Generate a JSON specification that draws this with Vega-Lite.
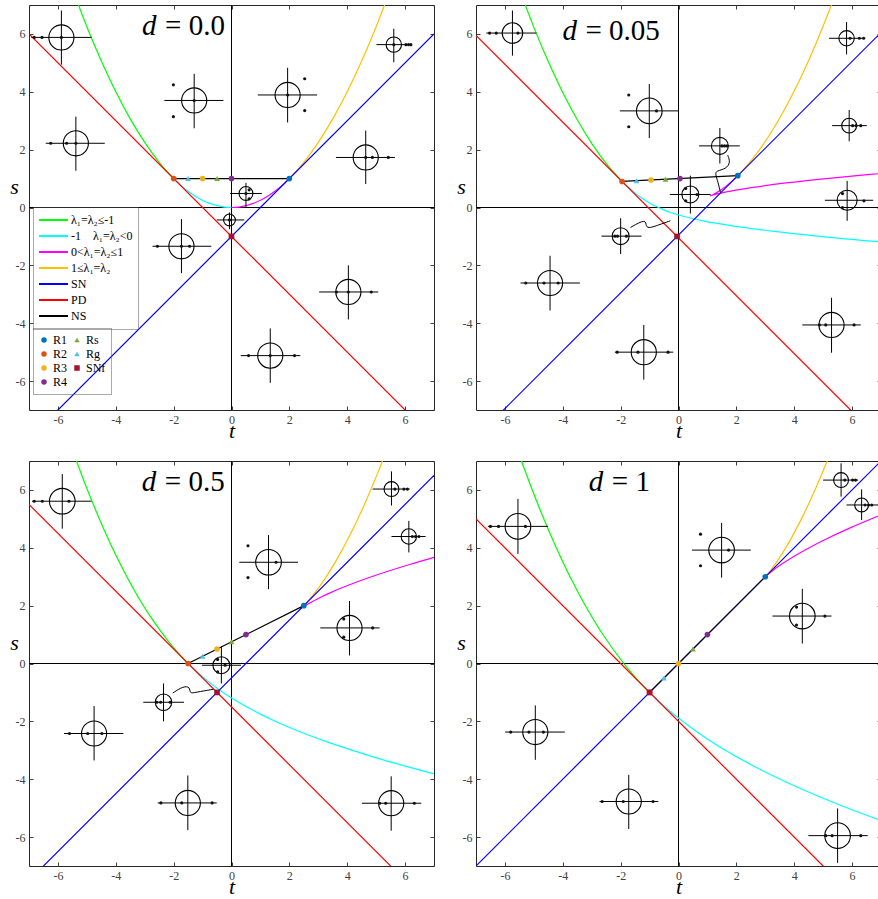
{
"$schema": "https://vega.github.io/schema/vega-lite/v6.json",
"padding": {"left": 9, "top": 4, "right": 0, "bottom": 0},
"background": "white",
"datasets": {"all": [
{"kind":"c","p":"A","g":"λ₁=λ₂≤-1","k":0,"t":-2,"s":1},{"kind":"c","p":"A","g":"λ₁=λ₂≤-1","k":1,"t":-2.5,"s":1.5625},{"kind":"c","p":"A","g":"λ₁=λ₂≤-1","k":2,"t":-3,"s":2.25},{"kind":"c","p":"A","g":"λ₁=λ₂≤-1","k":3,"t":-3.5,"s":3.0625},{"kind":"c","p":"A","g":"λ₁=λ₂≤-1","k":4,"t":-4,"s":4},{"kind":"c","p":"A","g":"λ₁=λ₂≤-1","k":5,"t":-4.5,"s":5.0625},{"kind":"c","p":"A","g":"λ₁=λ₂≤-1","k":6,"t":-5,"s":6.25},{"kind":"c","p":"A","g":"λ₁=λ₂≤-1","k":7,"t":-5.5,"s":7.5625},
{"kind":"c","p":"A","g":"-1\u00a0\u00a0\u00a0\u00a0λ₁=λ₂<0","k":0,"t":-2,"s":1},{"kind":"c","p":"A","g":"-1\u00a0\u00a0\u00a0\u00a0λ₁=λ₂<0","k":1,"t":-1.75,"s":0.7656},{"kind":"c","p":"A","g":"-1\u00a0\u00a0\u00a0\u00a0λ₁=λ₂<0","k":2,"t":-1.5,"s":0.5625},{"kind":"c","p":"A","g":"-1\u00a0\u00a0\u00a0\u00a0λ₁=λ₂<0","k":3,"t":-1.25,"s":0.3906},{"kind":"c","p":"A","g":"-1\u00a0\u00a0\u00a0\u00a0λ₁=λ₂<0","k":4,"t":-1,"s":0.25},{"kind":"c","p":"A","g":"-1\u00a0\u00a0\u00a0\u00a0λ₁=λ₂<0","k":5,"t":-0.75,"s":0.1406},{"kind":"c","p":"A","g":"-1\u00a0\u00a0\u00a0\u00a0λ₁=λ₂<0","k":6,"t":-0.5,"s":0.0625},{"kind":"c","p":"A","g":"-1\u00a0\u00a0\u00a0\u00a0λ₁=λ₂<0","k":7,"t":-0.25,"s":0.0156},{"kind":"c","p":"A","g":"-1\u00a0\u00a0\u00a0\u00a0λ₁=λ₂<0","k":8,"t":0,"s":0},
{"kind":"c","p":"A","g":"0<λ₁=λ₂≤1","k":0,"t":0,"s":0},{"kind":"c","p":"A","g":"0<λ₁=λ₂≤1","k":1,"t":0.25,"s":0.0156},{"kind":"c","p":"A","g":"0<λ₁=λ₂≤1","k":2,"t":0.5,"s":0.0625},{"kind":"c","p":"A","g":"0<λ₁=λ₂≤1","k":3,"t":0.75,"s":0.1406},{"kind":"c","p":"A","g":"0<λ₁=λ₂≤1","k":4,"t":1,"s":0.25},{"kind":"c","p":"A","g":"0<λ₁=λ₂≤1","k":5,"t":1.25,"s":0.3906},{"kind":"c","p":"A","g":"0<λ₁=λ₂≤1","k":6,"t":1.5,"s":0.5625},{"kind":"c","p":"A","g":"0<λ₁=λ₂≤1","k":7,"t":1.75,"s":0.7656},{"kind":"c","p":"A","g":"0<λ₁=λ₂≤1","k":8,"t":2,"s":1},
{"kind":"c","p":"A","g":"1≤λ₁=λ₂","k":0,"t":2,"s":1},{"kind":"c","p":"A","g":"1≤λ₁=λ₂","k":1,"t":2.5,"s":1.5625},{"kind":"c","p":"A","g":"1≤λ₁=λ₂","k":2,"t":3,"s":2.25},{"kind":"c","p":"A","g":"1≤λ₁=λ₂","k":3,"t":3.5,"s":3.0625},{"kind":"c","p":"A","g":"1≤λ₁=λ₂","k":4,"t":4,"s":4},{"kind":"c","p":"A","g":"1≤λ₁=λ₂","k":5,"t":4.5,"s":5.0625},{"kind":"c","p":"A","g":"1≤λ₁=λ₂","k":6,"t":5,"s":6.25},{"kind":"c","p":"A","g":"1≤λ₁=λ₂","k":7,"t":5.5,"s":7.5625},
{"kind":"c","p":"A","g":"SN","k":0,"t":-7,"s":-8},{"kind":"c","p":"A","g":"SN","k":1,"t":7,"s":6},
{"kind":"c","p":"A","g":"PD","k":0,"t":-7,"s":6},{"kind":"c","p":"A","g":"PD","k":1,"t":7,"s":-8},
{"kind":"c","p":"A","g":"NS","k":0,"t":-2,"s":1},{"kind":"c","p":"A","g":"NS","k":1,"t":2,"s":1},

{"kind":"c","p":"B","g":"λ₁=λ₂≤-1","k":0,"t":-1.95,"s":0.9},{"kind":"c","p":"B","g":"λ₁=λ₂≤-1","k":1,"t":-2.468,"s":1.4825},{"kind":"c","p":"B","g":"λ₁=λ₂≤-1","k":2,"t":-2.978,"s":2.183},{"kind":"c","p":"B","g":"λ₁=λ₂≤-1","k":3,"t":-3.484,"s":3.005},{"kind":"c","p":"B","g":"λ₁=λ₂≤-1","k":4,"t":-3.988,"s":3.95},{"kind":"c","p":"B","g":"λ₁=λ₂≤-1","k":5,"t":-4.49,"s":5.018},{"kind":"c","p":"B","g":"λ₁=λ₂≤-1","k":6,"t":-4.992,"s":6.21},{"kind":"c","p":"B","g":"λ₁=λ₂≤-1","k":7,"t":-5.493,"s":7.526},
{"kind":"c","p":"B","g":"-1\u00a0\u00a0\u00a0\u00a0λ₁=λ₂<0","k":0,"t":-1.95,"s":0.9},{"kind":"c","p":"B","g":"-1\u00a0\u00a0\u00a0\u00a0λ₁=λ₂<0","k":1,"t":-1.738,"s":0.699},{"kind":"c","p":"B","g":"-1\u00a0\u00a0\u00a0\u00a0λ₁=λ₂<0","k":2,"t":-1.522,"s":0.515},{"kind":"c","p":"B","g":"-1\u00a0\u00a0\u00a0\u00a0λ₁=λ₂<0","k":3,"t":-1.298,"s":0.347},{"kind":"c","p":"B","g":"-1\u00a0\u00a0\u00a0\u00a0λ₁=λ₂<0","k":4,"t":-1.061,"s":0.193},{"kind":"c","p":"B","g":"-1\u00a0\u00a0\u00a0\u00a0λ₁=λ₂<0","k":5,"t":-0.8,"s":0.05},{"kind":"c","p":"B","g":"-1\u00a0\u00a0\u00a0\u00a0λ₁=λ₂<0","k":6,"t":-0.488,"s":-0.09},{"kind":"c","p":"B","g":"-1\u00a0\u00a0\u00a0\u00a0λ₁=λ₂<0","k":7,"t":-0.292,"s":-0.163},{"kind":"c","p":"B","g":"-1\u00a0\u00a0\u00a0\u00a0λ₁=λ₂<0","k":8,"t":-0.044,"s":-0.243},{"kind":"c","p":"B","g":"-1\u00a0\u00a0\u00a0\u00a0λ₁=λ₂<0","k":9,"t":0.3,"s":-0.338},{"kind":"c","p":"B","g":"-1\u00a0\u00a0\u00a0\u00a0λ₁=λ₂<0","k":10,"t":0.85,"s":-0.46},{"kind":"c","p":"B","g":"-1\u00a0\u00a0\u00a0\u00a0λ₁=λ₂<0","k":11,"t":1.283,"s":-0.541},{"kind":"c","p":"B","g":"-1\u00a0\u00a0\u00a0\u00a0λ₁=λ₂<0","k":12,"t":1.922,"s":-0.644},{"kind":"c","p":"B","g":"-1\u00a0\u00a0\u00a0\u00a0λ₁=λ₂<0","k":13,"t":3.232,"s":-0.819},{"kind":"c","p":"B","g":"-1\u00a0\u00a0\u00a0\u00a0λ₁=λ₂<0","k":14,"t":4.8,"s":-0.99},{"kind":"c","p":"B","g":"-1\u00a0\u00a0\u00a0\u00a0λ₁=λ₂<0","k":15,"t":5.993,"s":-1.103},{"kind":"c","p":"B","g":"-1\u00a0\u00a0\u00a0\u00a0λ₁=λ₂<0","k":16,"t":7.092,"s":-1.198},
{"kind":"c","p":"B","g":"0<λ₁=λ₂≤1","k":0,"t":2.05,"s":1.1},{"kind":"c","p":"B","g":"0<λ₁=λ₂≤1","k":1,"t":1.862,"s":0.921},{"kind":"c","p":"B","g":"0<λ₁=λ₂≤1","k":2,"t":1.678,"s":0.765},{"kind":"c","p":"B","g":"0<λ₁=λ₂≤1","k":3,"t":1.502,"s":0.633},{"kind":"c","p":"B","g":"0<λ₁=λ₂≤1","k":4,"t":1.339,"s":0.527},{"kind":"c","p":"B","g":"0<λ₁=λ₂≤1","k":5,"t":1.2,"s":0.45},{"kind":"c","p":"B","g":"0<λ₁=λ₂≤1","k":6,"t":1.147,"s":0.425},{"kind":"c","p":"B","g":"0<λ₁=λ₂≤1","k":7,"t":1.113,"s":0.41},{"kind":"c","p":"B","g":"0<λ₁=λ₂≤1","k":8,"t":1.108,"s":0.408},{"kind":"c","p":"B","g":"0<λ₁=λ₂≤1","k":9,"t":1.156,"s":0.423},{"kind":"c","p":"B","g":"0<λ₁=λ₂≤1","k":10,"t":1.3,"s":0.463},{"kind":"c","p":"B","g":"0<λ₁=λ₂≤1","k":11,"t":1.65,"s":0.54},{"kind":"c","p":"B","g":"0<λ₁=λ₂≤1","k":12,"t":1.983,"s":0.602},{"kind":"c","p":"B","g":"0<λ₁=λ₂≤1","k":13,"t":2.522,"s":0.689},{"kind":"c","p":"B","g":"0<λ₁=λ₂≤1","k":14,"t":3.712,"s":0.848},{"kind":"c","p":"B","g":"0<λ₁=λ₂≤1","k":15,"t":5.2,"s":1.01},{"kind":"c","p":"B","g":"0<λ₁=λ₂≤1","k":16,"t":6.353,"s":1.119},{"kind":"c","p":"B","g":"0<λ₁=λ₂≤1","k":17,"t":7.09,"s":1.184},
{"kind":"c","p":"B","g":"1≤λ₁=λ₂","k":0,"t":2.05,"s":1.1},{"kind":"c","p":"B","g":"1≤λ₁=λ₂","k":1,"t":2.532,"s":1.643},{"kind":"c","p":"B","g":"1≤λ₁=λ₂","k":2,"t":3.022,"s":2.317},{"kind":"c","p":"B","g":"1≤λ₁=λ₂","k":3,"t":3.516,"s":3.12},{"kind":"c","p":"B","g":"1≤λ₁=λ₂","k":4,"t":4.013,"s":4.05},{"kind":"c","p":"B","g":"1≤λ₁=λ₂","k":5,"t":4.51,"s":5.107},{"kind":"c","p":"B","g":"1≤λ₁=λ₂","k":6,"t":5.008,"s":6.29},{"kind":"c","p":"B","g":"1≤λ₁=λ₂","k":7,"t":5.507,"s":7.599},
{"kind":"c","p":"B","g":"SN","k":0,"t":-7,"s":-7.95},{"kind":"c","p":"B","g":"SN","k":1,"t":7,"s":6.05},
{"kind":"c","p":"B","g":"PD","k":0,"t":-7,"s":5.95},{"kind":"c","p":"B","g":"PD","k":1,"t":7,"s":-8.05},
{"kind":"c","p":"B","g":"NS","k":0,"t":-1.95,"s":0.9},{"kind":"c","p":"B","g":"NS","k":1,"t":2.05,"s":1.1},

{"kind":"c","p":"C","g":"λ₁=λ₂≤-1","k":0,"t":-1.5,"s":0},{"kind":"c","p":"C","g":"λ₁=λ₂≤-1","k":1,"t":-1.787,"s":0.301},{"kind":"c","p":"C","g":"λ₁=λ₂≤-1","k":2,"t":-2.18,"s":0.763},{"kind":"c","p":"C","g":"λ₁=λ₂≤-1","k":3,"t":-2.778,"s":1.583},{"kind":"c","p":"C","g":"λ₁=λ₂≤-1","k":4,"t":-3.337,"s":2.491},{"kind":"c","p":"C","g":"λ₁=λ₂≤-1","k":5,"t":-3.875,"s":3.5},{"kind":"c","p":"C","g":"λ₁=λ₂≤-1","k":6,"t":-4.401,"s":4.618},{"kind":"c","p":"C","g":"λ₁=λ₂≤-1","k":7,"t":-4.92,"s":5.85},{"kind":"c","p":"C","g":"λ₁=λ₂≤-1","k":8,"t":-5.434,"s":7.199},
{"kind":"c","p":"C","g":"-1\u00a0\u00a0\u00a0\u00a0λ₁=λ₂<0","k":0,"t":-1.5,"s":0},{"kind":"c","p":"C","g":"-1\u00a0\u00a0\u00a0\u00a0λ₁=λ₂<0","k":1,"t":-1.346,"s":-0.15},{"kind":"c","p":"C","g":"-1\u00a0\u00a0\u00a0\u00a0λ₁=λ₂<0","k":2,"t":-1.183,"s":-0.301},{"kind":"c","p":"C","g":"-1\u00a0\u00a0\u00a0\u00a0λ₁=λ₂<0","k":3,"t":-0.819,"s":-0.61},{"kind":"c","p":"C","g":"-1\u00a0\u00a0\u00a0\u00a0λ₁=λ₂<0","k":4,"t":-0.38,"s":-0.939},{"kind":"c","p":"C","g":"-1\u00a0\u00a0\u00a0\u00a0λ₁=λ₂<0","k":5,"t":0.189,"s":-1.307},{"kind":"c","p":"C","g":"-1\u00a0\u00a0\u00a0\u00a0λ₁=λ₂<0","k":6,"t":1,"s":-1.75},{"kind":"c","p":"C","g":"-1\u00a0\u00a0\u00a0\u00a0λ₁=λ₂<0","k":7,"t":1.569,"s":-2.02},{"kind":"c","p":"C","g":"-1\u00a0\u00a0\u00a0\u00a0λ₁=λ₂<0","k":8,"t":2.325,"s":-2.34},{"kind":"c","p":"C","g":"-1\u00a0\u00a0\u00a0\u00a0λ₁=λ₂<0","k":9,"t":3.382,"s":-2.735},{"kind":"c","p":"C","g":"-1\u00a0\u00a0\u00a0\u00a0λ₁=λ₂<0","k":10,"t":4.956,"s":-3.243},{"kind":"c","p":"C","g":"-1\u00a0\u00a0\u00a0\u00a0λ₁=λ₂<0","k":11,"t":5.818,"s":-3.493},{"kind":"c","p":"C","g":"-1\u00a0\u00a0\u00a0\u00a0λ₁=λ₂<0","k":12,"t":6.876,"s":-3.779},{"kind":"c","p":"C","g":"-1\u00a0\u00a0\u00a0\u00a0λ₁=λ₂<0","k":13,"t":7.179,"s":-3.857},
{"kind":"c","p":"C","g":"0<λ₁=λ₂≤1","k":0,"t":2.5,"s":2},{"kind":"c","p":"C","g":"0<λ₁=λ₂≤1","k":1,"t":2.417,"s":1.921},{"kind":"c","p":"C","g":"0<λ₁=λ₂≤1","k":2,"t":2.381,"s":1.89},{"kind":"c","p":"C","g":"0<λ₁=λ₂≤1","k":3,"t":2.42,"s":1.919},{"kind":"c","p":"C","g":"0<λ₁=λ₂≤1","k":4,"t":2.589,"s":2.027},{"kind":"c","p":"C","g":"0<λ₁=λ₂≤1","k":5,"t":3,"s":2.25},{"kind":"c","p":"C","g":"0<λ₁=λ₂≤1","k":6,"t":3.369,"s":2.425},{"kind":"c","p":"C","g":"0<λ₁=λ₂≤1","k":7,"t":3.925,"s":2.66},{"kind":"c","p":"C","g":"0<λ₁=λ₂≤1","k":8,"t":4.782,"s":2.98},{"kind":"c","p":"C","g":"0<λ₁=λ₂≤1","k":9,"t":6.156,"s":3.423},{"kind":"c","p":"C","g":"0<λ₁=λ₂≤1","k":10,"t":6.938,"s":3.65},{"kind":"c","p":"C","g":"0<λ₁=λ₂≤1","k":11,"t":7.162,"s":3.712},
{"kind":"c","p":"C","g":"1≤λ₁=λ₂","k":0,"t":2.5,"s":2},{"kind":"c","p":"C","g":"1≤λ₁=λ₂","k":1,"t":2.613,"s":2.119},{"kind":"c","p":"C","g":"1≤λ₁=λ₂","k":2,"t":2.82,"s":2.363},{"kind":"c","p":"C","g":"1≤λ₁=λ₂","k":3,"t":3.222,"s":2.917},{"kind":"c","p":"C","g":"1≤λ₁=λ₂","k":4,"t":3.663,"s":3.634},{"kind":"c","p":"C","g":"1≤λ₁=λ₂","k":5,"t":4.125,"s":4.5},{"kind":"c","p":"C","g":"1≤λ₁=λ₂","k":6,"t":4.599,"s":5.507},{"kind":"c","p":"C","g":"1≤λ₁=λ₂","k":7,"t":5.08,"s":6.65},{"kind":"c","p":"C","g":"1≤λ₁=λ₂","k":8,"t":5.274,"s":7.145},
{"kind":"c","p":"C","g":"SN","k":0,"t":-7,"s":-7.5},{"kind":"c","p":"C","g":"SN","k":1,"t":7,"s":6.5},
{"kind":"c","p":"C","g":"PD","k":0,"t":-7,"s":5.5},{"kind":"c","p":"C","g":"PD","k":1,"t":7,"s":-8.5},
{"kind":"c","p":"C","g":"NS","k":0,"t":-1.5,"s":0},{"kind":"c","p":"C","g":"NS","k":1,"t":2.5,"s":2},

{"kind":"c","p":"D","g":"λ₁=λ₂≤-1","k":0,"t":-1,"s":-1},{"kind":"c","p":"D","g":"λ₁=λ₂≤-1","k":1,"t":-1.374,"s":-0.608},{"kind":"c","p":"D","g":"λ₁=λ₂≤-1","k":2,"t":-1.86,"s":-0.038},{"kind":"c","p":"D","g":"λ₁=λ₂≤-1","k":3,"t":-2.556,"s":0.917},{"kind":"c","p":"D","g":"λ₁=λ₂≤-1","k":4,"t":-3.173,"s":1.92},{"kind":"c","p":"D","g":"λ₁=λ₂≤-1","k":5,"t":-3.75,"s":3},{"kind":"c","p":"D","g":"λ₁=λ₂≤-1","k":6,"t":-4.302,"s":4.174},{"kind":"c","p":"D","g":"λ₁=λ₂≤-1","k":7,"t":-4.84,"s":5.45},{"kind":"c","p":"D","g":"λ₁=λ₂≤-1","k":8,"t":-5.368,"s":6.835},{"kind":"c","p":"D","g":"λ₁=λ₂≤-1","k":9,"t":-5.472,"s":7.126},
{"kind":"c","p":"D","g":"-1\u00a0\u00a0\u00a0\u00a0λ₁=λ₂<0","k":0,"t":-1,"s":-1},{"kind":"c","p":"D","g":"-1\u00a0\u00a0\u00a0\u00a0λ₁=λ₂<0","k":1,"t":-0.608,"s":-1.374},{"kind":"c","p":"D","g":"-1\u00a0\u00a0\u00a0\u00a0λ₁=λ₂<0","k":2,"t":-0.038,"s":-1.86},{"kind":"c","p":"D","g":"-1\u00a0\u00a0\u00a0\u00a0λ₁=λ₂<0","k":3,"t":0.917,"s":-2.556},{"kind":"c","p":"D","g":"-1\u00a0\u00a0\u00a0\u00a0λ₁=λ₂<0","k":4,"t":1.92,"s":-3.173},{"kind":"c","p":"D","g":"-1\u00a0\u00a0\u00a0\u00a0λ₁=λ₂<0","k":5,"t":3,"s":-3.75},{"kind":"c","p":"D","g":"-1\u00a0\u00a0\u00a0\u00a0λ₁=λ₂<0","k":6,"t":4.174,"s":-4.302},{"kind":"c","p":"D","g":"-1\u00a0\u00a0\u00a0\u00a0λ₁=λ₂<0","k":7,"t":5.45,"s":-4.84},{"kind":"c","p":"D","g":"-1\u00a0\u00a0\u00a0\u00a0λ₁=λ₂<0","k":8,"t":6.835,"s":-5.368},{"kind":"c","p":"D","g":"-1\u00a0\u00a0\u00a0\u00a0λ₁=λ₂<0","k":9,"t":7.126,"s":-5.472},
{"kind":"c","p":"D","g":"0<λ₁=λ₂≤1","k":0,"t":3,"s":3},{"kind":"c","p":"D","g":"0<λ₁=λ₂≤1","k":1,"t":3.028,"s":3.026},{"kind":"c","p":"D","g":"0<λ₁=λ₂≤1","k":2,"t":3.163,"s":3.14},{"kind":"c","p":"D","g":"0<λ₁=λ₂≤1","k":3,"t":3.583,"s":3.444},{"kind":"c","p":"D","g":"0<λ₁=λ₂≤1","k":4,"t":4.205,"s":3.827},{"kind":"c","p":"D","g":"0<λ₁=λ₂≤1","k":5,"t":5,"s":4.25},{"kind":"c","p":"D","g":"0<λ₁=λ₂≤1","k":6,"t":5.951,"s":4.698},{"kind":"c","p":"D","g":"0<λ₁=λ₂≤1","k":7,"t":7.05,"s":5.16},
{"kind":"c","p":"D","g":"1≤λ₁=λ₂","k":0,"t":3,"s":3},{"kind":"c","p":"D","g":"1≤λ₁=λ₂","k":1,"t":3.026,"s":3.028},{"kind":"c","p":"D","g":"1≤λ₁=λ₂","k":2,"t":3.14,"s":3.163},{"kind":"c","p":"D","g":"1≤λ₁=λ₂","k":3,"t":3.444,"s":3.583},{"kind":"c","p":"D","g":"1≤λ₁=λ₂","k":4,"t":3.827,"s":4.205},{"kind":"c","p":"D","g":"1≤λ₁=λ₂","k":5,"t":4.25,"s":5},{"kind":"c","p":"D","g":"1≤λ₁=λ₂","k":6,"t":4.698,"s":5.951},{"kind":"c","p":"D","g":"1≤λ₁=λ₂","k":7,"t":5.16,"s":7.05},
{"kind":"c","p":"D","g":"SN","k":0,"t":-7,"s":-7},{"kind":"c","p":"D","g":"SN","k":1,"t":7,"s":7},
{"kind":"c","p":"D","g":"PD","k":0,"t":-7,"s":5},{"kind":"c","p":"D","g":"PD","k":1,"t":7,"s":-9},
{"kind":"c","p":"D","g":"NS","k":0,"t":-1,"s":-1},{"kind":"c","p":"D","g":"NS","k":1,"t":3,"s":3},

{"kind":"gl","p":"A","cx":-5.88,"cy":5.88,"r":0.49,"hx1":-6.92,"hx2":-4.84,"vy1":4.94,"vy2":6.81},
{"kind":"gl","p":"A","cx":-1.29,"cy":3.7,"r":0.49,"hx1":-2.32,"hx2":-0.28,"vy1":2.74,"vy2":4.62},
{"kind":"gl","p":"A","cx":1.94,"cy":3.89,"r":0.49,"hx1":0.91,"hx2":2.96,"vy1":2.94,"vy2":4.83},
{"kind":"gl","p":"A","cx":5.61,"cy":5.63,"r":0.3,"hx1":5.01,"hx2":6.21,"vy1":5.02,"vy2":6.18},
{"kind":"gl","p":"A","cx":-5.38,"cy":2.22,"r":0.49,"hx1":-6.42,"hx2":-4.38,"vy1":1.27,"vy2":3.14},
{"kind":"gl","p":"A","cx":4.64,"cy":1.73,"r":0.49,"hx1":3.61,"hx2":5.65,"vy1":0.81,"vy2":2.66},
{"kind":"gl","p":"A","cx":0.5,"cy":0.485,"r":0.27,"hx1":-0.05,"hx2":1.05,"vy1":0.0,"vy2":0.85},
{"kind":"gl","p":"A","cx":-0.07,"cy":-0.43,"r":0.23,"hx1":-0.51,"hx2":0.44,"vy1":-0.75,"vy2":-0.17},
{"kind":"gl","p":"A","cx":-1.73,"cy":-1.34,"r":0.49,"hx1":-2.73,"hx2":-0.7,"vy1":-2.27,"vy2":-0.4},
{"kind":"gl","p":"A","cx":4.04,"cy":-2.92,"r":0.49,"hx1":3.03,"hx2":5.07,"vy1":-3.87,"vy2":-2.0},
{"kind":"gl","p":"A","cx":1.34,"cy":-5.12,"r":0.49,"hx1":0.32,"hx2":2.38,"vy1":-6.06,"vy2":-4.18},
{"kind":"gl","p":"B","cx":-5.74,"cy":6.03,"r":0.4,"hx1":-6.64,"hx2":-4.91,"vy1":5.25,"vy2":6.81},
{"kind":"gl","p":"B","cx":-1.01,"cy":3.34,"r":0.5,"hx1":-2.03,"hx2":0.02,"vy1":2.4,"vy2":4.27},
{"kind":"gl","p":"B","cx":5.81,"cy":5.85,"r":0.3,"hx1":5.2,"hx2":6.45,"vy1":5.29,"vy2":6.41},
{"kind":"gl","p":"B","cx":5.9,"cy":2.83,"r":0.29,"hx1":5.31,"hx2":6.51,"vy1":2.29,"vy2":3.37},
{"kind":"gl","p":"B","cx":1.43,"cy":2.13,"r":0.33,"hx1":0.71,"hx2":2.12,"vy1":1.52,"vy2":2.75},
{"kind":"gl","p":"B","cx":0.41,"cy":0.45,"r":0.33,"hx1":-0.3,"hx2":1.11,"vy1":-0.21,"vy2":1.1},
{"kind":"gl","p":"B","cx":5.83,"cy":0.25,"r":0.39,"hx1":5.06,"hx2":6.73,"vy1":-0.46,"vy2":0.92},
{"kind":"gl","p":"B","cx":-2.0,"cy":-0.99,"r":0.33,"hx1":-2.66,"hx2":-1.28,"vy1":-1.61,"vy2":-0.37},
{"kind":"gl","p":"B","cx":-4.44,"cy":-2.61,"r":0.49,"hx1":-5.46,"hx2":-3.41,"vy1":-3.56,"vy2":-1.67},
{"kind":"gl","p":"B","cx":-1.2,"cy":-5.0,"r":0.49,"hx1":-2.2,"hx2":-0.18,"vy1":-5.95,"vy2":-4.06},
{"kind":"gl","p":"B","cx":5.29,"cy":-4.06,"r":0.49,"hx1":4.28,"hx2":6.3,"vy1":-5.02,"vy2":-3.12},
{"kind":"gl","p":"C","cx":-5.85,"cy":5.61,"r":0.5,"hx1":-6.89,"hx2":-4.84,"vy1":4.66,"vy2":6.55},
{"kind":"gl","p":"C","cx":1.28,"cy":3.5,"r":0.5,"hx1":0.27,"hx2":2.3,"vy1":2.57,"vy2":4.44},
{"kind":"gl","p":"C","cx":5.53,"cy":6.03,"r":0.29,"hx1":4.88,"hx2":6.16,"vy1":5.46,"vy2":6.64},
{"kind":"gl","p":"C","cx":6.13,"cy":4.39,"r":0.3,"hx1":5.53,"hx2":6.71,"vy1":3.84,"vy2":4.93},
{"kind":"gl","p":"C","cx":4.08,"cy":1.23,"r":0.49,"hx1":3.07,"hx2":5.12,"vy1":0.28,"vy2":2.16},
{"kind":"gl","p":"C","cx":-0.35,"cy":-0.06,"r":0.33,"hx1":-1.02,"hx2":0.33,"vy1":-0.69,"vy2":0.58},
{"kind":"gl","p":"C","cx":-2.35,"cy":-1.34,"r":0.32,"hx1":-3.05,"hx2":-1.64,"vy1":-2.0,"vy2":-0.69},
{"kind":"gl","p":"C","cx":-4.75,"cy":-2.42,"r":0.49,"hx1":-5.79,"hx2":-3.74,"vy1":-3.35,"vy2":-1.47},
{"kind":"gl","p":"C","cx":-1.51,"cy":-4.82,"r":0.49,"hx1":-2.55,"hx2":-0.51,"vy1":-5.76,"vy2":-3.87},
{"kind":"gl","p":"C","cx":5.52,"cy":-4.83,"r":0.49,"hx1":4.51,"hx2":6.56,"vy1":-5.78,"vy2":-3.9},
{"kind":"gl","p":"D","cx":-5.55,"cy":4.74,"r":0.5,"hx1":-6.59,"hx2":-4.51,"vy1":3.79,"vy2":5.69},
{"kind":"gl","p":"D","cx":1.49,"cy":3.92,"r":0.5,"hx1":0.47,"hx2":2.5,"vy1":2.97,"vy2":4.86},
{"kind":"gl","p":"D","cx":5.62,"cy":6.34,"r":0.29,"hx1":5.0,"hx2":6.21,"vy1":5.77,"vy2":6.92},
{"kind":"gl","p":"D","cx":6.33,"cy":5.48,"r":0.27,"hx1":5.81,"hx2":6.9,"vy1":4.96,"vy2":6.02},
{"kind":"gl","p":"D","cx":4.28,"cy":1.64,"r":0.5,"hx1":3.25,"hx2":5.29,"vy1":0.69,"vy2":2.58},
{"kind":"gl","p":"D","cx":-4.95,"cy":-2.37,"r":0.49,"hx1":-5.99,"hx2":-3.93,"vy1":-3.33,"vy2":-1.45},
{"kind":"gl","p":"D","cx":-1.72,"cy":-4.77,"r":0.49,"hx1":-2.73,"hx2":-0.7,"vy1":-5.72,"vy2":-3.85},
{"kind":"gl","p":"D","cx":5.5,"cy":-5.95,"r":0.5,"hx1":4.49,"hx2":6.54,"vy1":-6.89,"vy2":-5.01},

{"kind":"dt","p":"A","t":-6.82,"s":5.88},{"kind":"dt","p":"A","t":-6.55,"s":5.88},{"kind":"dt","p":"A","t":-5.88,"s":5.88},
{"kind":"dt","p":"A","t":-2.01,"s":4.24},{"kind":"dt","p":"A","t":-2.01,"s":3.14},{"kind":"dt","p":"A","t":-1.29,"s":3.7},
{"kind":"dt","p":"A","t":2.53,"s":4.45},{"kind":"dt","p":"A","t":2.53,"s":3.35},{"kind":"dt","p":"A","t":1.94,"s":3.89},
{"kind":"dt","p":"A","t":5.61,"s":5.63},{"kind":"dt","p":"A","t":6.03,"s":5.63},{"kind":"dt","p":"A","t":6.12,"s":5.63},{"kind":"dt","p":"A","t":6.2,"s":5.63},
{"kind":"dt","p":"A","t":-6.25,"s":2.22},{"kind":"dt","p":"A","t":-5.7,"s":2.22},{"kind":"dt","p":"A","t":-5.38,"s":2.22},
{"kind":"dt","p":"A","t":4.64,"s":1.73},{"kind":"dt","p":"A","t":4.87,"s":1.73},{"kind":"dt","p":"A","t":5.42,"s":1.73},
{"kind":"dt","p":"A","t":0.61,"s":0.61},{"kind":"dt","p":"A","t":0.61,"s":0.3},{"kind":"dt","p":"A","t":0.5,"s":0.485},
{"kind":"dt","p":"A","t":-0.07,"s":-0.43},
{"kind":"dt","p":"A","t":-2.56,"s":-1.34},{"kind":"dt","p":"A","t":-1.73,"s":-1.34},{"kind":"dt","p":"A","t":-1.45,"s":-1.34},
{"kind":"dt","p":"A","t":3.63,"s":-2.92},{"kind":"dt","p":"A","t":4.04,"s":-2.92},{"kind":"dt","p":"A","t":4.83,"s":-2.92},
{"kind":"dt","p":"A","t":0.59,"s":-5.12},{"kind":"dt","p":"A","t":1.34,"s":-5.12},{"kind":"dt","p":"A","t":2.18,"s":-5.12},
{"kind":"dt","p":"B","t":-6.53,"s":6.03},{"kind":"dt","p":"B","t":-6.3,"s":6.03},{"kind":"dt","p":"B","t":-5.55,"s":6.03},
{"kind":"dt","p":"B","t":-1.72,"s":3.89},{"kind":"dt","p":"B","t":-1.72,"s":2.79},{"kind":"dt","p":"B","t":-0.76,"s":3.34},
{"kind":"dt","p":"B","t":5.93,"s":5.85},{"kind":"dt","p":"B","t":6.25,"s":5.85},{"kind":"dt","p":"B","t":6.4,"s":5.85},
{"kind":"dt","p":"B","t":6.02,"s":2.83},{"kind":"dt","p":"B","t":6.14,"s":2.83},{"kind":"dt","p":"B","t":6.3,"s":2.83},
{"kind":"dt","p":"B","t":1.5,"s":2.13},{"kind":"dt","p":"B","t":1.59,"s":2.13},{"kind":"dt","p":"B","t":1.68,"s":2.13},
{"kind":"dt","p":"B","t":0.25,"s":0.66},{"kind":"dt","p":"B","t":0.25,"s":0.23},{"kind":"dt","p":"B","t":0.64,"s":0.45},
{"kind":"dt","p":"B","t":5.67,"s":0.48},{"kind":"dt","p":"B","t":5.67,"s":0.0},{"kind":"dt","p":"B","t":6.41,"s":0.23},
{"kind":"dt","p":"B","t":-2.2,"s":-0.99},{"kind":"dt","p":"B","t":-2.11,"s":-0.99},{"kind":"dt","p":"B","t":-1.8,"s":-0.99},
{"kind":"dt","p":"B","t":-5.28,"s":-2.61},{"kind":"dt","p":"B","t":-4.65,"s":-2.61},{"kind":"dt","p":"B","t":-4.16,"s":-2.61},
{"kind":"dt","p":"B","t":-2.12,"s":-5.0},{"kind":"dt","p":"B","t":-1.4,"s":-5.0},{"kind":"dt","p":"B","t":-0.36,"s":-5.0},
{"kind":"dt","p":"B","t":4.87,"s":-4.06},{"kind":"dt","p":"B","t":5.09,"s":-4.06},{"kind":"dt","p":"B","t":6.07,"s":-4.06},
{"kind":"dt","p":"C","t":-6.82,"s":5.61},{"kind":"dt","p":"C","t":-6.54,"s":5.61},{"kind":"dt","p":"C","t":-5.62,"s":5.61},
{"kind":"dt","p":"C","t":0.57,"s":4.07},{"kind":"dt","p":"C","t":0.57,"s":2.97},{"kind":"dt","p":"C","t":1.54,"s":3.5},
{"kind":"dt","p":"C","t":5.65,"s":6.03},{"kind":"dt","p":"C","t":5.96,"s":6.03},{"kind":"dt","p":"C","t":6.08,"s":6.03},
{"kind":"dt","p":"C","t":6.25,"s":4.39},{"kind":"dt","p":"C","t":6.36,"s":4.39},{"kind":"dt","p":"C","t":6.48,"s":4.39},
{"kind":"dt","p":"C","t":3.88,"s":1.54},{"kind":"dt","p":"C","t":3.88,"s":0.91},{"kind":"dt","p":"C","t":4.88,"s":1.23},
{"kind":"dt","p":"C","t":-0.48,"s":0.14},{"kind":"dt","p":"C","t":-0.48,"s":-0.29},{"kind":"dt","p":"C","t":-0.22,"s":-0.06},
{"kind":"dt","p":"C","t":-2.58,"s":-1.34},{"kind":"dt","p":"C","t":-2.45,"s":-1.34},{"kind":"dt","p":"C","t":-2.12,"s":-1.34},
{"kind":"dt","p":"C","t":-5.6,"s":-2.42},{"kind":"dt","p":"C","t":-4.97,"s":-2.42},{"kind":"dt","p":"C","t":-4.48,"s":-2.42},
{"kind":"dt","p":"C","t":-2.44,"s":-4.82},{"kind":"dt","p":"C","t":-1.72,"s":-4.82},{"kind":"dt","p":"C","t":-0.67,"s":-4.82},
{"kind":"dt","p":"C","t":5.12,"s":-4.83},{"kind":"dt","p":"C","t":5.33,"s":-4.83},{"kind":"dt","p":"C","t":6.32,"s":-4.83},
{"kind":"dt","p":"D","t":-6.5,"s":4.74},{"kind":"dt","p":"D","t":-6.22,"s":4.74},{"kind":"dt","p":"D","t":-5.29,"s":4.74},
{"kind":"dt","p":"D","t":0.76,"s":4.47},{"kind":"dt","p":"D","t":0.76,"s":3.38},{"kind":"dt","p":"D","t":1.73,"s":3.92},
{"kind":"dt","p":"D","t":5.75,"s":6.34},{"kind":"dt","p":"D","t":6.02,"s":6.34},{"kind":"dt","p":"D","t":6.12,"s":6.34},
{"kind":"dt","p":"D","t":6.45,"s":5.48},{"kind":"dt","p":"D","t":6.57,"s":5.48},{"kind":"dt","p":"D","t":6.68,"s":5.48},
{"kind":"dt","p":"D","t":4.08,"s":1.95},{"kind":"dt","p":"D","t":4.08,"s":1.33},{"kind":"dt","p":"D","t":5.06,"s":1.64},
{"kind":"dt","p":"D","t":-5.8,"s":-2.37},{"kind":"dt","p":"D","t":-5.17,"s":-2.37},{"kind":"dt","p":"D","t":-4.67,"s":-2.37},
{"kind":"dt","p":"D","t":-2.64,"s":-4.77},{"kind":"dt","p":"D","t":-1.91,"s":-4.77},{"kind":"dt","p":"D","t":-0.88,"s":-4.77},
{"kind":"dt","p":"D","t":5.09,"s":-5.95},{"kind":"dt","p":"D","t":5.31,"s":-5.95},{"kind":"dt","p":"D","t":6.3,"s":-5.95},

{"kind":"sq","p":"B","id":"b1","k":0,"t":1.7,"s":1.81},{"kind":"sq","p":"B","id":"b1","k":1,"t":1.8,"s":1.56},{"kind":"sq","p":"B","id":"b1","k":2,"t":1.64,"s":1.33},{"kind":"sq","p":"B","id":"b1","k":3,"t":1.31,"s":1.27},{"kind":"sq","p":"B","id":"b1","k":4,"t":1.27,"s":1.16},{"kind":"sq","p":"B","id":"b1","k":5,"t":1.37,"s":0.87},{"kind":"sq","p":"B","id":"b1","k":6,"t":1.45,"s":0.52},
{"kind":"sq","p":"B","id":"b2","k":0,"t":-1.66,"s":-0.69},{"kind":"sq","p":"B","id":"b2","k":1,"t":-1.11,"s":-0.38},{"kind":"sq","p":"B","id":"b2","k":2,"t":-1.14,"s":-0.67},{"kind":"sq","p":"B","id":"b2","k":3,"t":-0.99,"s":-0.71},{"kind":"sq","p":"B","id":"b2","k":4,"t":-0.71,"s":-0.61},{"kind":"sq","p":"B","id":"b2","k":5,"t":-0.28,"s":-0.46},
{"kind":"sq","p":"C","id":"c1","k":0,"t":-2.03,"s":-1.02},{"kind":"sq","p":"C","id":"c1","k":1,"t":-1.66,"s":-0.78},{"kind":"sq","p":"C","id":"c1","k":2,"t":-1.43,"s":-0.81},{"kind":"sq","p":"C","id":"c1","k":3,"t":-1.45,"s":-1.04},{"kind":"sq","p":"C","id":"c1","k":4,"t":-1.26,"s":-1.0},{"kind":"sq","p":"C","id":"c1","k":5,"t":-0.62,"s":-0.89},

{"kind":"pt","p":"A","nm":"R1","t":2,"s":1},{"kind":"pt","p":"A","nm":"R2","t":-2,"s":1},{"kind":"pt","p":"A","nm":"R3","t":-1,"s":1},{"kind":"pt","p":"A","nm":"R4","t":0,"s":1},{"kind":"pt","p":"A","nm":"Rs","t":-0.5,"s":1},{"kind":"pt","p":"A","nm":"Rg","t":-1.5,"s":1},{"kind":"pt","p":"A","nm":"SNf","t":0,"s":-1},
{"kind":"pt","p":"B","nm":"R1","t":2.05,"s":1.1},{"kind":"pt","p":"B","nm":"R2","t":-1.95,"s":0.9},{"kind":"pt","p":"B","nm":"R3","t":-0.95,"s":0.95},{"kind":"pt","p":"B","nm":"R4","t":0.05,"s":1},{"kind":"pt","p":"B","nm":"Rs","t":-0.45,"s":0.975},{"kind":"pt","p":"B","nm":"Rg","t":-1.45,"s":0.925},{"kind":"pt","p":"B","nm":"SNf","t":-0.05,"s":-1},
{"kind":"pt","p":"C","nm":"R1","t":2.5,"s":2},{"kind":"pt","p":"C","nm":"R2","t":-1.5,"s":0},{"kind":"pt","p":"C","nm":"R3","t":-0.5,"s":0.5},{"kind":"pt","p":"C","nm":"R4","t":0.5,"s":1},{"kind":"pt","p":"C","nm":"Rs","t":0,"s":0.75},{"kind":"pt","p":"C","nm":"Rg","t":-1,"s":0.25},{"kind":"pt","p":"C","nm":"SNf","t":-0.5,"s":-1},
{"kind":"pt","p":"D","nm":"R1","t":3,"s":3},{"kind":"pt","p":"D","nm":"R2","t":-1,"s":-1},{"kind":"pt","p":"D","nm":"R3","t":0,"s":0},{"kind":"pt","p":"D","nm":"R4","t":1,"s":1},{"kind":"pt","p":"D","nm":"Rs","t":0.5,"s":0.5},{"kind":"pt","p":"D","nm":"Rg","t":-0.5,"s":-0.5},{"kind":"pt","p":"D","nm":"SNf","t":-1,"s":-1},

{"kind":"ttl","p":"A","t":-3.09,"s":5.97,"lab":"= 0.0"},
{"kind":"ttl","p":"B","t":-4.01,"s":5.8,"lab":"= 0.05"},
{"kind":"ttl","p":"C","t":-3.1,"s":5.98,"lab":"= 0.5"},
{"kind":"ttl","p":"D","t":-3.1,"s":5.96,"lab":"= 1"}
]},
"data": {"name": "all"},
"facet": {"field": "p", "type": "nominal", "header": {"labels": false, "title": null, "labelExpr": "''", "labelFontSize": 0, "labelPadding": 0, "titlePadding": 0}},
"columns": 2,
"spacing": {"row": 18, "column": 21},
"resolve": {"axis": {"x": "independent", "y": "independent"}},
"spec": {
  "width": 405,
  "height": 405,
  "resolve": {"axis": {"x": "independent", "y": "independent"}},
  "layer": [
    {
      "transform": [{"filter": "datum.kind === 'ttl'"}],
      "mark": {"type": "rule", "color": "black", "strokeWidth": 1},
      "encoding": {
        "x": {"datum": 0, "type": "quantitative", "scale": {"domain": [-7, 7], "nice": false, "zero": false}, "title": "t",
          "axis": {"values": [-6,-4,-2,0,2,4,6], "labelExpr": "''+datum.value", "tickSize": -4, "labelPadding": 8, "domain": false, "grid": false, "title": "t", "titleFont": "Liberation Serif", "titleFontStyle": "italic", "titleFontWeight": "normal", "titleFontSize": 22, "titlePadding": -5, "labelFont": "Liberation Serif", "labelFontSize": 12, "labelColor": "#404040", "tickColor": "#404040", "labelFlush": false}}
      }
    },
    {
      "transform": [{"filter": "datum.kind === 'ttl'"}],
      "mark": {"type": "rule", "color": "black", "strokeWidth": 1},
      "encoding": {
        "y": {"datum": 0, "type": "quantitative", "scale": {"domain": [-7, 7], "nice": false, "zero": false}, "title": "s",
          "axis": {"values": [-6,-4,-2,0,2,4,6], "labelExpr": "''+datum.value", "tickSize": -4, "labelPadding": 8, "domain": false, "grid": false, "title": "s", "titleFont": "Liberation Serif", "titleFontStyle": "italic", "titleFontWeight": "normal", "titleFontSize": 22, "titleAngle": 0, "titleX": -15, "titleY": 188, "titleAlign": "center", "titleBaseline": "alphabetic", "labelFont": "Liberation Serif", "labelFontSize": 12, "labelColor": "#404040", "tickColor": "#404040", "labelFlush": false}}
      }
    },
    {
      "transform": [{"filter": "datum.kind === 'ttl'"}],
      "mark": {"type": "rule", "opacity": 0},
      "encoding": {
        "x": {"datum": 0, "type": "quantitative", "scale": {"domain": [-7, 7], "nice": false, "zero": false},
          "axis": {"orient": "top", "values": [-6,-4,-2,0,2,4,6], "labels": false, "tickSize": -4, "domain": false, "grid": false, "title": null, "tickColor": "#404040"}},
        "y": {"datum": 0, "type": "quantitative", "scale": {"domain": [-7, 7], "nice": false, "zero": false},
          "axis": {"orient": "right", "values": [-6,-4,-2,0,2,4,6], "labels": false, "tickSize": -4, "domain": false, "grid": false, "title": null, "tickColor": "#404040"}}
      }
    },
    {
      "transform": [{"filter": "datum.kind === 'c'"}],
      "mark": {"type": "line", "clip": true, "strokeWidth": 1.2, "interpolate": "catmull-rom"},
      "encoding": {
        "x": {"field": "t", "type": "quantitative", "scale": {"domain": [-7, 7], "nice": false, "zero": false}, "axis": null},
        "y": {"field": "s", "type": "quantitative", "scale": {"domain": [-7, 7], "nice": false, "zero": false}, "axis": null},
        "order": {"field": "k", "type": "quantitative"},
        "stroke": {"field": "g", "type": "nominal",
          "scale": {"domain": ["λ₁=λ₂≤-1", "-1\u00a0\u00a0\u00a0\u00a0λ₁=λ₂<0", "0<λ₁=λ₂≤1", "1≤λ₁=λ₂", "SN", "PD", "NS"],
                    "range": ["#00FF00", "#00FFFF", "#FF00FF", "#FFC000", "#0000FF", "#FF0000", "#000000"]},
          "legend": {"title": null, "orient": "none", "legendX": 4, "legendY": 202, "symbolType": "stroke", "symbolSize": 841, "symbolStrokeWidth": 2, "labelFont": "Liberation Serif", "labelFontSize": 12, "labelColor": "black", "labelLimit": 200, "labelOffset": 2, "padding": 5, "rowPadding": 0, "clipHeight": 16, "strokeColor": "#555555"}}
      }
    },
    {
      "transform": [{"filter": "datum.kind === 'gl'"}],
      "mark": {"type": "point", "filled": false, "color": "black", "strokeWidth": 1.1, "opacity": 1},
      "encoding": {
        "x": {"field": "cx", "type": "quantitative", "scale": {"domain": [-7, 7], "nice": false, "zero": false}, "axis": null},
        "y": {"field": "cy", "type": "quantitative", "scale": {"domain": [-7, 7], "nice": false, "zero": false}, "axis": null},
        "size": {"field": "r", "type": "quantitative", "scale": {"type": "pow", "exponent": 2, "domain": [0, 1], "range": [0, 2629]}, "legend": null}
      }
    },
    {
      "transform": [{"filter": "datum.kind === 'gl'"}],
      "mark": {"type": "rule", "color": "black", "strokeWidth": 1},
      "encoding": {
        "x": {"field": "hx1", "type": "quantitative", "scale": {"domain": [-7, 7], "nice": false, "zero": false}, "axis": null},
        "x2": {"field": "hx2"},
        "y": {"field": "cy", "type": "quantitative", "scale": {"domain": [-7, 7], "nice": false, "zero": false}, "axis": null}
      }
    },
    {
      "transform": [{"filter": "datum.kind === 'gl'"}],
      "mark": {"type": "rule", "color": "black", "strokeWidth": 1},
      "encoding": {
        "x": {"field": "cx", "type": "quantitative", "scale": {"domain": [-7, 7], "nice": false, "zero": false}, "axis": null},
        "y": {"field": "vy1", "type": "quantitative", "scale": {"domain": [-7, 7], "nice": false, "zero": false}, "axis": null},
        "y2": {"field": "vy2"}
      }
    },
    {
      "transform": [{"filter": "datum.kind === 'dt'"}],
      "mark": {"type": "point", "filled": true, "color": "#111111", "size": 10, "opacity": 1},
      "encoding": {
        "x": {"field": "t", "type": "quantitative", "scale": {"domain": [-7, 7], "nice": false, "zero": false}, "axis": null},
        "y": {"field": "s", "type": "quantitative", "scale": {"domain": [-7, 7], "nice": false, "zero": false}, "axis": null}
      }
    },
    {
      "transform": [{"filter": "datum.kind === 'sq'"}],
      "mark": {"type": "line", "color": "black", "strokeWidth": 1, "interpolate": "basis"},
      "encoding": {
        "x": {"field": "t", "type": "quantitative", "scale": {"domain": [-7, 7], "nice": false, "zero": false}, "axis": null},
        "y": {"field": "s", "type": "quantitative", "scale": {"domain": [-7, 7], "nice": false, "zero": false}, "axis": null},
        "detail": {"field": "id"},
        "order": {"field": "k", "type": "quantitative"}
      }
    },
    {
      "transform": [{"filter": "datum.kind === 'pt'"}],
      "mark": {"type": "point", "filled": true, "size": 32, "opacity": 1},
      "encoding": {
        "x": {"field": "t", "type": "quantitative", "scale": {"domain": [-7, 7], "nice": false, "zero": false}, "axis": null},
        "y": {"field": "s", "type": "quantitative", "scale": {"domain": [-7, 7], "nice": false, "zero": false}, "axis": null},
        "color": {"field": "nm", "type": "nominal",
          "scale": {"domain": ["R1", "R2", "R3", "R4", "Rs", "Rg", "SNf"], "range": ["#0072BD", "#D95319", "#EDB120", "#7E2F8E", "#77AC30", "#4DBEEE", "#A2142F"]},
          "legend": {"title": null, "orient": "none", "legendX": 4, "legendY": 323, "columns": 2, "symbolSize": 30, "labelFont": "Liberation Serif", "labelFontSize": 12, "labelColor": "black", "padding": 5, "rowPadding": -1, "clipHeight": 14, "columnPadding": 3, "labelOffset": 3, "strokeColor": "#555555"}},
        "shape": {"field": "nm", "type": "nominal",
          "scale": {"domain": ["R1", "R2", "R3", "R4", "Rs", "Rg", "SNf"], "range": ["circle", "circle", "circle", "circle", "triangle-up", "triangle-up", "square"]},
          "legend": {"title": null, "orient": "none", "legendX": 4, "legendY": 323, "columns": 2, "symbolSize": 30, "labelFont": "Liberation Serif", "labelFontSize": 12, "labelColor": "black", "padding": 5, "rowPadding": -1, "clipHeight": 14, "columnPadding": 3, "labelOffset": 3, "strokeColor": "#555555"}}
      }
    },
    {
      "transform": [{"filter": "datum.kind === 'ttl'"}],
      "mark": {"type": "text", "text": "d", "font": "Liberation Serif", "fontStyle": "italic", "fontSize": 29, "align": "left", "baseline": "alphabetic", "color": "black"},
      "encoding": {
        "x": {"field": "t", "type": "quantitative", "scale": {"domain": [-7, 7], "nice": false, "zero": false}, "axis": null},
        "y": {"field": "s", "type": "quantitative", "scale": {"domain": [-7, 7], "nice": false, "zero": false}, "axis": null}
      }
    },
    {
      "transform": [{"filter": "datum.kind === 'ttl'"}],
      "mark": {"type": "text", "font": "Liberation Serif", "fontSize": 29, "align": "left", "baseline": "alphabetic", "dx": 23, "color": "black"},
      "encoding": {
        "x": {"field": "t", "type": "quantitative", "scale": {"domain": [-7, 7], "nice": false, "zero": false}, "axis": null},
        "y": {"field": "s", "type": "quantitative", "scale": {"domain": [-7, 7], "nice": false, "zero": false}, "axis": null},
        "text": {"field": "lab"}
      }
    }
  ]
},
"config": {
  "view": {"stroke": "#262626", "strokeWidth": 1},
  "font": "Liberation Serif",
  "header": {"labels": false, "title": null, "labelFontSize": 0, "labelPadding": 0},
  "headerFacet": {"labels": false, "title": null, "labelFontSize": 0, "labelPadding": 0},
  "legend": {"strokeDash": [1, 1], "strokeColor": "#555555"}
}
}
